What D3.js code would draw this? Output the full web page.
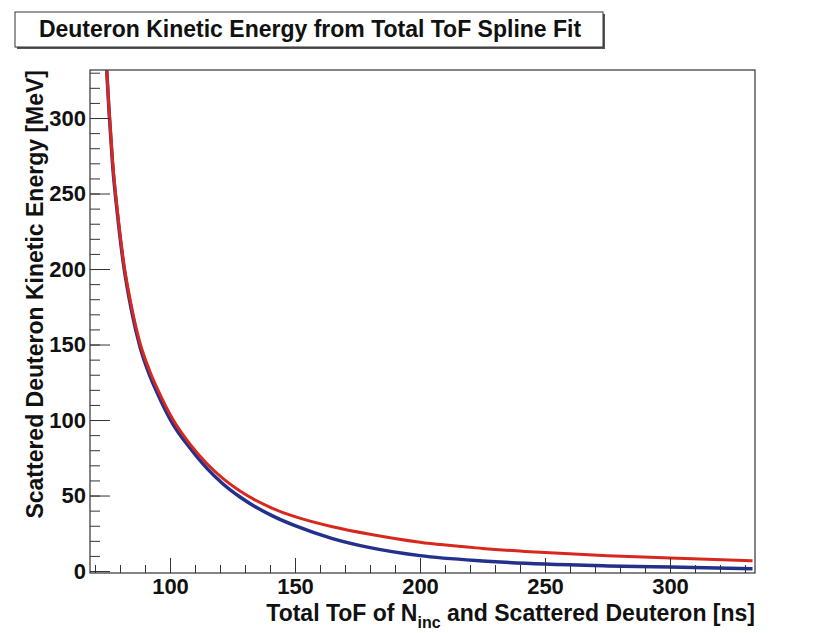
<!DOCTYPE html>
<html>
<head>
<meta charset="utf-8">
<script src="https://cdn.jsdelivr.net/npm/d3@7"></script>
<style>
  body { margin: 0; background: #fff; }
  text { font-family: "Liberation Sans", Arial, Helvetica, sans-serif; font-weight: bold; fill: #111; }
</style>
</head>
<body>
<div id="chart"></div>
<script>
// Curve values (ToF in ns, energy in MeV)
const tofRed = [74.7, 75.6, 77.0, 79.0, 81.5, 84.5, 88.0, 92.0, 96.0, 101.3, 108.0, 114.8, 121.0, 128.0, 141.0, 150.0, 165.0, 180.0, 200.0, 225.0, 250.0, 275.0, 300.0, 333.0];
const energyRed = [332, 306, 272, 238, 204, 176, 151, 132, 117, 100, 84, 71, 61.5, 53, 41.5, 36, 29.3, 24.3, 19, 15, 12.2, 10.1, 8.6, 6.8];

const tofBlue = [74.7, 75.6, 77.0, 79.0, 81.5, 84.5, 88.0, 92.0, 96.0, 101.3, 108.0, 114.8, 121.0, 128.0, 141.0, 150.0, 165.0, 180.0, 200.0, 225.0, 250.0, 275.0, 300.0, 333.0];
const energyBlue = [331, 305, 270, 236, 202, 173.5, 148.5, 129, 114, 97, 81.5, 68, 58, 49, 36.5, 30, 21.5, 15.5, 10.2, 6.7, 4.6, 3.4, 2.6, 1.5];

const xMajor = [100, 150, 200, 250, 300];
const xMinor = d3.range(70, 334, 10);
const yMajor = [0, 50, 100, 150, 200, 250, 300];
const yMinor = d3.range(0, 331, 10);

const titleText = "Deuteron Kinetic Energy from Total ToF Spline Fit";
const yTitle = "Scattered Deuteron Kinetic Energy [MeV]";

// Frame of the plot
const frame = { left: 90, right: 755, top: 70, bottom: 573 };

const svg = d3.select("#chart")
    .append("svg")
    .attr("width", 827)
    .attr("height", 633);

const x = d3.scaleLinear().domain([68, 334]).range([frame.left, frame.right]);
const y = d3.scaleLinear().domain([-1.3, 331.8]).range([frame.bottom, frame.top]);

// Title box with a small shadow
svg.append("rect")
    .attr("x", 17).attr("y", 14)
    .attr("width", 588).attr("height", 35)
    .attr("fill", "#555");
svg.append("rect")
    .attr("x", 15).attr("y", 12)
    .attr("width", 588).attr("height", 35)
    .attr("fill", "#fff")
    .attr("stroke", "#333")
    .attr("stroke-width", 1);
svg.append("text")
    .attr("x", 310).attr("y", 37)
    .attr("text-anchor", "middle")
    .style("font-size", "23px")
    .text(titleText);

// Clip for the curves
svg.append("clipPath").attr("id", "plot-clip")
    .append("rect")
    .attr("x", frame.left).attr("y", frame.top)
    .attr("width", frame.right - frame.left)
    .attr("height", frame.bottom - frame.top);

const line = d3.line()
    .x(d => x(d[0]))
    .y(d => y(d[1]))
    .curve(d3.curveMonotoneX);

const blueData = tofBlue.map((t, i) => [t, energyBlue[i]]);
const redData = tofRed.map((t, i) => [t, energyRed[i]]);

const curves = svg.append("g").attr("clip-path", "url(#plot-clip)");
curves.append("path")
    .attr("d", line(blueData))
    .attr("fill", "none")
    .attr("stroke", "#23308c")
    .attr("stroke-width", 3.5);
curves.append("path")
    .attr("d", line(redData))
    .attr("fill", "none")
    .attr("stroke", "#d8281e")
    .attr("stroke-width", 3);

// Frame
svg.append("rect")
    .attr("x", frame.left).attr("y", frame.top)
    .attr("width", frame.right - frame.left)
    .attr("height", frame.bottom - frame.top)
    .attr("fill", "none")
    .attr("stroke", "#333")
    .attr("stroke-width", 1.2);

const styleLabels = g => g.selectAll("text")
    .attr("fill", "#111")
    .style("font-family", "'Liberation Sans', Arial, sans-serif")
    .style("font-weight", "bold")
    .style("font-size", "22px");

// Y axis: ticks point inside the frame
svg.append("g")
    .attr("transform", `translate(${frame.left},0)`)
    .call(d3.axisLeft(y).tickValues(yMinor).tickSize(-10).tickFormat(""))
    .call(g => g.select(".domain").remove())
    .call(g => g.selectAll("line").attr("stroke", "#333"));

svg.append("g")
    .attr("transform", `translate(${frame.left},0)`)
    .call(d3.axisLeft(y).tickValues(yMajor).tickSize(-20).tickPadding(4))
    .call(g => g.select(".domain").remove())
    .call(g => g.selectAll("line").attr("stroke", "#333"))
    .call(styleLabels);

// X axis: ticks point up into the frame
svg.append("g")
    .attr("transform", `translate(0,${frame.bottom})`)
    .call(d3.axisBottom(x).tickValues(xMinor).tickSize(-8).tickFormat(""))
    .call(g => g.select(".domain").remove())
    .call(g => g.selectAll("line").attr("stroke", "#333"));

svg.append("g")
    .attr("transform", `translate(0,${frame.bottom})`)
    .call(d3.axisBottom(x).tickValues(xMajor).tickSize(-15).tickPadding(5))
    .call(g => g.select(".domain").remove())
    .call(g => g.selectAll("line").attr("stroke", "#333"))
    .call(styleLabels);

// Axis titles
const xt = svg.append("text")
    .attr("x", frame.right)
    .attr("y", 621)
    .attr("text-anchor", "end")
    .style("font-size", "23px");
xt.append("tspan").text("Total ToF of N");
xt.append("tspan").attr("dy", 7).style("font-size", "16px").text("inc");
xt.append("tspan").attr("dy", -7).text(" and Scattered Deuteron [ns]");

svg.append("text")
    .attr("transform", `translate(43,${frame.top}) rotate(-90)`)
    .attr("text-anchor", "end")
    .style("font-size", "23px")
    .text(yTitle);
</script>
</body>
</html>
